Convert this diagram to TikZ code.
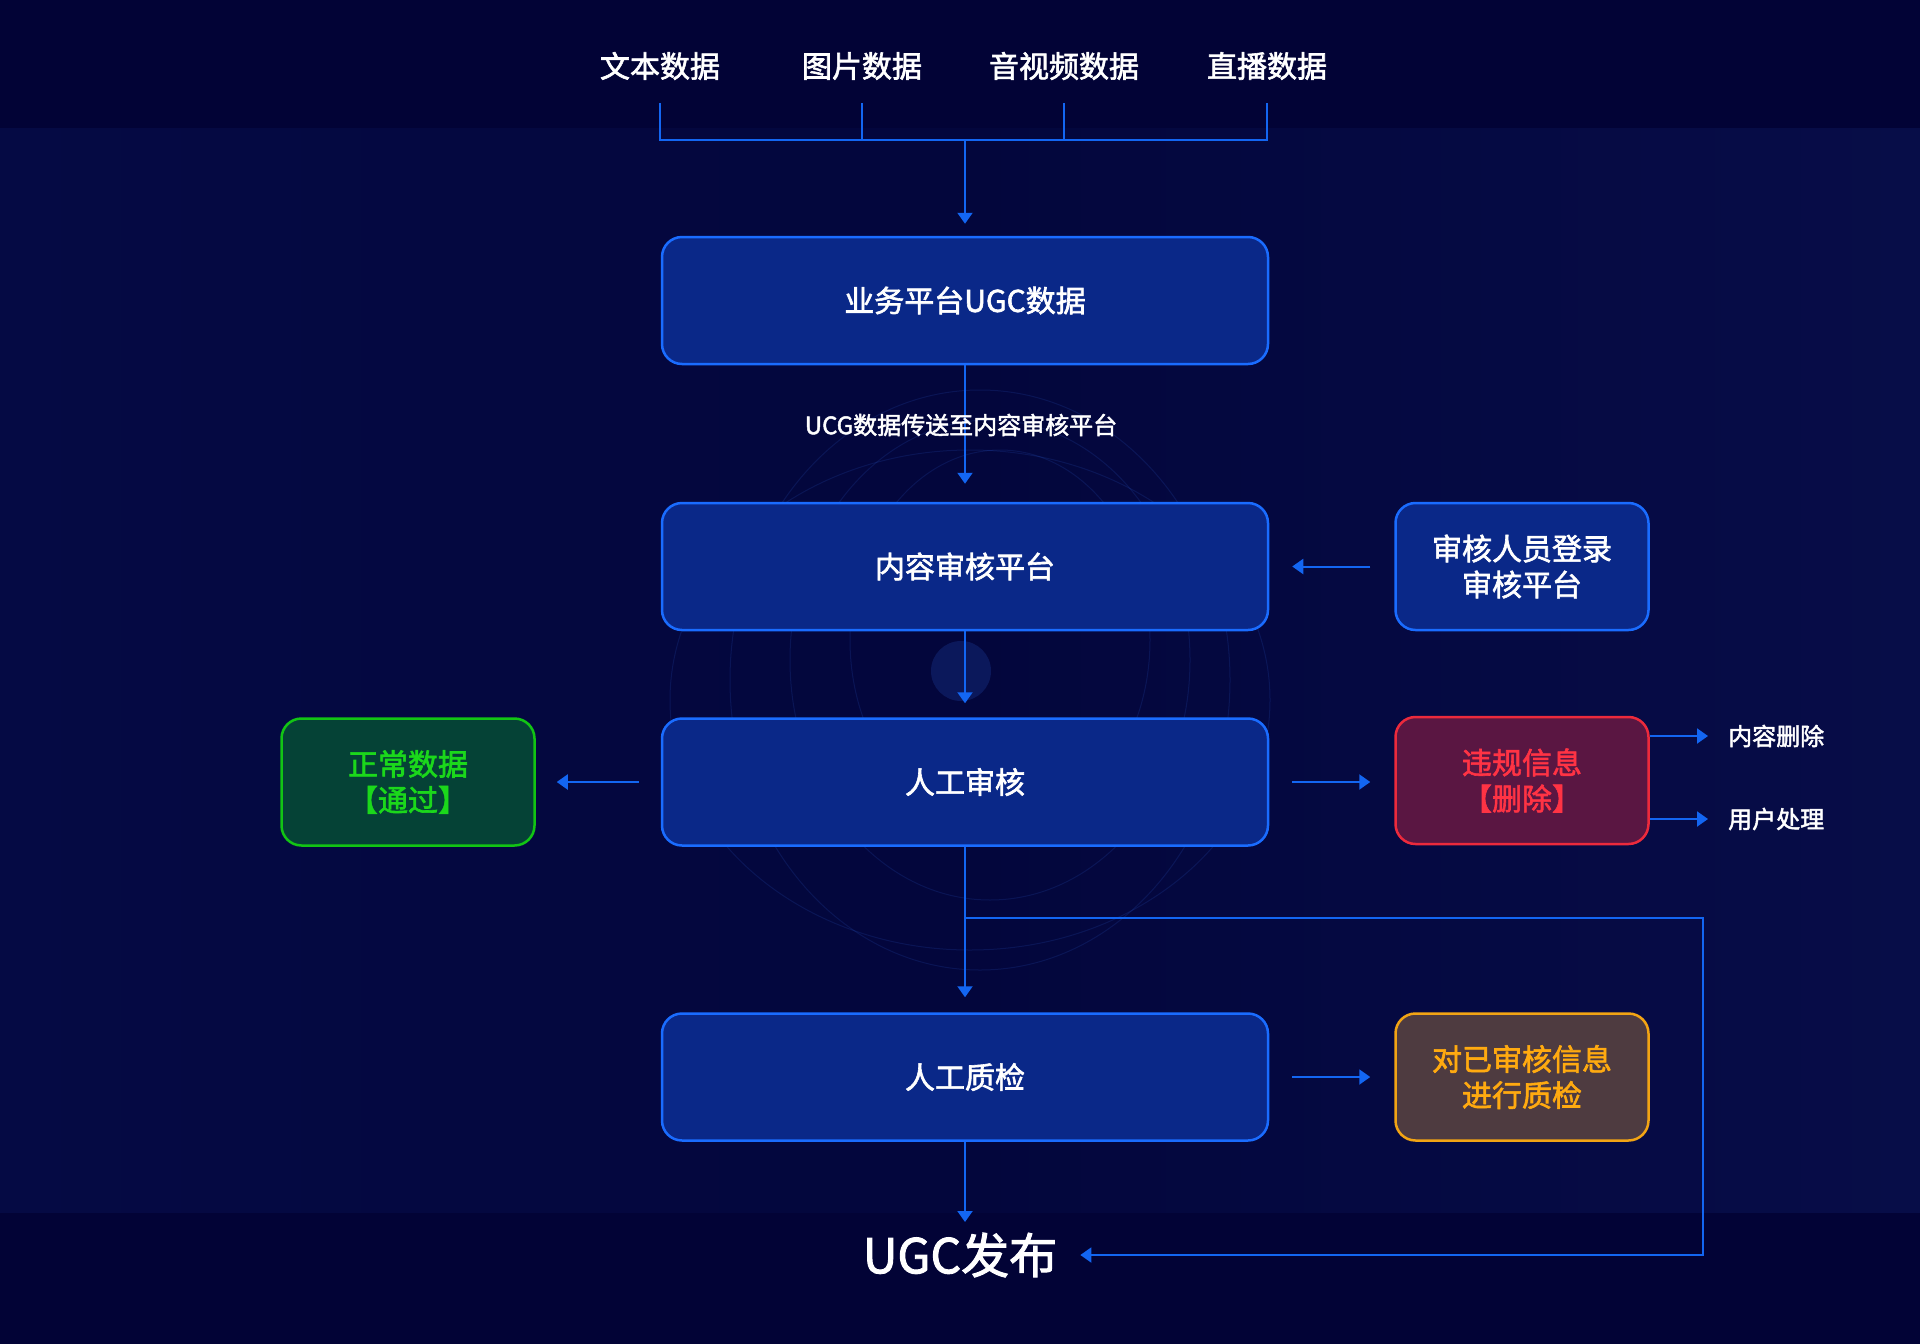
\documentclass[tikz,border=0pt]{standalone}
\usepackage{fontspec}
\setmainfont{Noto Sans CJK SC}[FakeBold=2]
\usetikzlibrary{arrows.meta,calc}
\definecolor{bg}{HTML}{020336}
\definecolor{panelL}{HTML}{050A44}
\definecolor{panelM}{HTML}{03063C}
\definecolor{panelR}{HTML}{070D48}
\definecolor{lc}{HTML}{1366F2}
\definecolor{bc}{HTML}{1A6CFF}
\definecolor{bf}{HTML}{0A2888}
\definecolor{gbc}{HTML}{12C414}
\definecolor{gbf}{HTML}{054236}
\definecolor{gtx}{HTML}{1BD81B}
\definecolor{rbc}{HTML}{EC2A3C}
\definecolor{rbf}{HTML}{5A1642}
\definecolor{rtx}{HTML}{FF3344}
\definecolor{obc}{HTML}{F2A414}
\definecolor{obf}{HTML}{4E3B40}
\definecolor{otx}{HTML}{FFAA10}
\definecolor{swirl}{HTML}{2F62D8}
\tikzset{
  ln/.style={draw=lc, line width=2pt},
  arr/.style={ln, -{Triangle[width=15pt,length=11pt]}},
  box/.style={draw=bc, line width=2.5pt, fill=bf, rounded corners=20pt,
    minimum width=606pt, minimum height=127pt, text=white, align=center,
    font=\fontsize{30}{36}\selectfont, inner sep=0pt},
  sbox/.style={box, minimum width=253pt},
  toplab/.style={text=white, font=\fontsize{30}{36}\selectfont, inner sep=0pt},
  smlab/.style={text=white, font=\fontsize{24}{28}\selectfont, inner sep=0pt},
}
\begin{document}
\begin{tikzpicture}[x=1pt,y=-1pt]
% background
\fill[bg] (0,0) rectangle (1920,1344);
\shade[left color=panelL, right color=panelR, middle color=panelM] (0,128) rectangle (1920,1212);
\useasboundingbox (0,0) rectangle (1920,1344);
% faint swirl decoration
\begin{scope}[draw=swirl, line width=1pt, draw opacity=0.16]
  \draw (980,680) ellipse (250pt and 290pt);
  \draw (990,660) ellipse (200pt and 240pt);
  \draw (970,700) ellipse (300pt and 250pt);
  \draw (1000,640) ellipse (150pt and 190pt);
\end{scope}
\fill[swirl, opacity=0.2] (961,671) circle (30pt);

% top labels
\node[toplab] (t1) at (660,66) {文本数据};
\node[toplab] (t2) at (862,66) {图片数据};
\node[toplab] (t3) at (1064,66) {音视频数据};
\node[toplab] (t4) at (1267,66) {直播数据};
\coordinate (topy) at (964,103);
\coordinate (bar) at (964,140);

% main boxes
\node[box] (b1) at (965,300.5) {业务平台UGC数据};
\node[box] (b2) at (965,566.5) {内容审核平台};
\node[box] (b3) at (965,782) {人工审核};
\node[box] (b4) at (965,1077) {人工质检};

% side boxes
\node[sbox] (rb) at (1522,566.5) {审核人员登录\\审核平台};
\node[sbox, draw=gbc, fill=gbf, text=gtx] (gb) at (408,782) {正常数据\\【通过】};
\node[sbox, draw=rbc, fill=rbf, text=rtx] (red) at (1522,780.5) {违规信息\\【删除】};
\node[sbox, draw=obc, fill=obf, text=otx] (ob) at (1522,1077) {对已审核信息\\进行质检};

% output labels
\node[smlab, anchor=west] (o1) at (1728,736) {内容删除};
\node[smlab, anchor=west] (o2) at (1728,819) {用户处理};
\node[text=white, font=\fontsize{48}{56}\selectfont, inner sep=0pt] (pub) at (960,1255) {UGC发布};
\coordinate (pubtop) at (965,1222);
\coordinate (br) at (965,918);
\coordinate (rc) at (1703,918);

% connectors: top collector
\draw[ln] (t1 |- topy) -- (t1 |- bar) -- (t4 |- bar) -- (t4 |- topy);
\draw[ln] (t2 |- topy) -- (t2 |- bar);
\draw[ln] (t3 |- topy) -- (t3 |- bar);
\draw[arr, shorten >=12pt] (b1.north |- bar) -- (b1.north);

% vertical flow
\draw[arr, shorten >=18pt] (b1.south) -- (b2.north);
\node[smlab] (lab) at (961,425) {UCG数据传送至内容审核平台};
\draw[arr, shorten >=14pt] (b2.south) -- (b3.north);
\draw[arr, shorten >=15pt] (b3.south) -- (b4.north);
\draw[arr] (b4.south) -- (pubtop);

% horizontal arrows
\draw[arr, shorten <=24pt, shorten >=23pt] (rb.west) -- (b2.east);
\draw[arr, shorten <=22pt, shorten >=21pt] (b3.west) -- (gb.east);
\draw[arr, shorten <=23pt, shorten >=24pt] (b3.east) -- (b3.east -| red.west);
\draw[arr, shorten <=23pt, shorten >=24pt] (b4.east) -- (ob.west);

% red outputs
\draw[arr, shorten >=20pt] (red.east |- o1) -- (o1.west);
\draw[arr, shorten >=20pt] (red.east |- o2) -- (o2.west);

% loop back to publish
\draw[arr, shorten >=23pt] (br) -- (rc) |- (pub.east);
\end{tikzpicture}
\end{document}
